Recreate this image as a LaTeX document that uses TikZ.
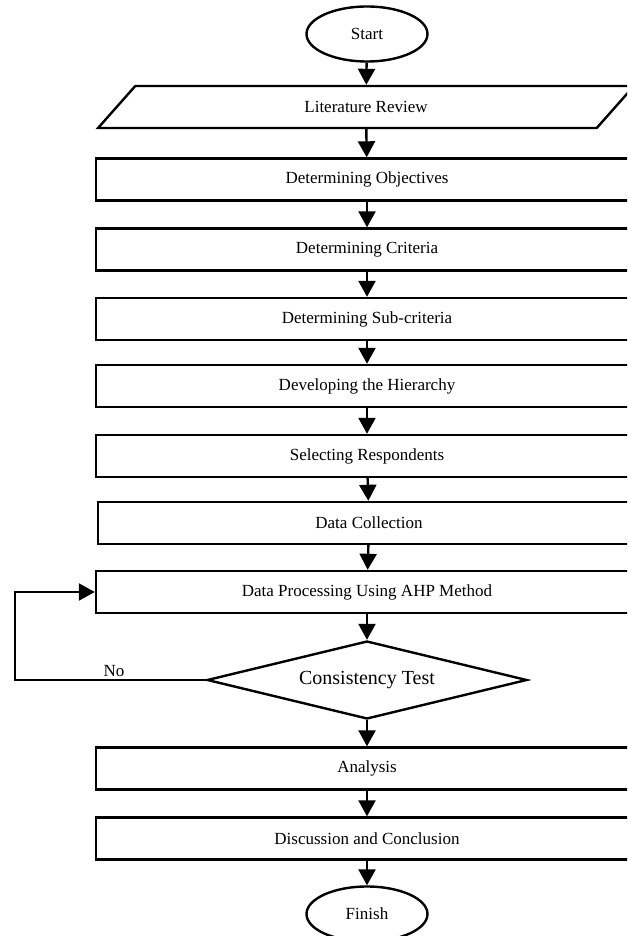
\documentclass[tikz,border=0pt]{standalone}
\usepackage{fontspec}
\setmainfont{Liberation Serif}
\usetikzlibrary{arrows.meta}
\usetikzlibrary{shapes.geometric}

\tikzset{
  stepbox/.style={draw, line width=2.4pt, minimum width=542, minimum height=42, inner sep=0pt, font=\fontsize{17}{20}\selectfont},
  terminal/.style={draw, ellipse, line width=2.4pt, minimum width=121, minimum height=55, inner sep=0pt, font=\fontsize{17}{20}\selectfont},
  flow/.style={line width=2.4pt, -{Triangle[length=16pt,width=17pt]}}
}

\begin{document}
\begin{tikzpicture}[x=1pt, y=-1pt]
   \clip (0,0) rectangle (627,936);
   \useasboundingbox (0,0) rectangle (627,936);
   %%
    \node[terminal] (start) at (367,34) {Start};
    \node[draw, trapezium, trapezium left angle=49, trapezium right angle=131, trapezium stretches=true,
          line width=2.4pt, minimum width=536, minimum height=42, inner sep=0pt,
          font=\fontsize{17}{20}\selectfont] (lit) at (366,107) {Literature Review};
    \node[stepbox] (obj) at (367,179.5) {Determining Objectives};
    \node[stepbox] (crit) at (367,249.5) {Determining Criteria};
    \node[stepbox] (sub) at (367,319) {Determining Sub-criteria};
    \node[stepbox] (hier) at (367,386) {Developing the Hierarchy};
    \node[stepbox] (resp) at (367,456) {Selecting Respondents};
    \node[stepbox] (coll) at (369,523) {Data Collection};
    \node[stepbox] (proc) at (367,592) {Data Processing Using AHP Method};
    \node[draw, diamond, line width=2.4pt, aspect=4.1, minimum width=320, minimum height=78, inner sep=0pt,
          font=\fontsize{20}{24}\selectfont] (test) at (367,680) {Consistency Test};
    \node[stepbox] (anal) at (367,768.5) {Analysis};
    \node[stepbox] (disc) at (367,838.5) {Discussion and Conclusion};
    \node[terminal] (finish) at (367,914) {Finish};
   %%
    \path[flow] (start) edge (lit);
    \path[flow] (lit) edge (obj);
    \path[flow] (obj) edge (crit);
    \path[flow] (crit) edge (sub);
    \path[flow] (sub) edge (hier);
    \path[flow] (hier) edge (resp);
    \path[flow] (resp) edge (coll);
    \path[flow] (coll) edge (proc);
    \path[flow] (proc) edge (test);
    \path[flow] (test) edge (anal);
    \path[flow] (anal) edge (disc);
    \path[flow] (disc) edge (finish);
   %%
    \coordinate (back) at (15,680);
    \draw[flow] (test.west) -- (back) |- (proc.west);
    \node[font=\fontsize{17}{20}\selectfont, anchor=south] (no) at (114,680) {No};
  \end{tikzpicture}
\end{document}
